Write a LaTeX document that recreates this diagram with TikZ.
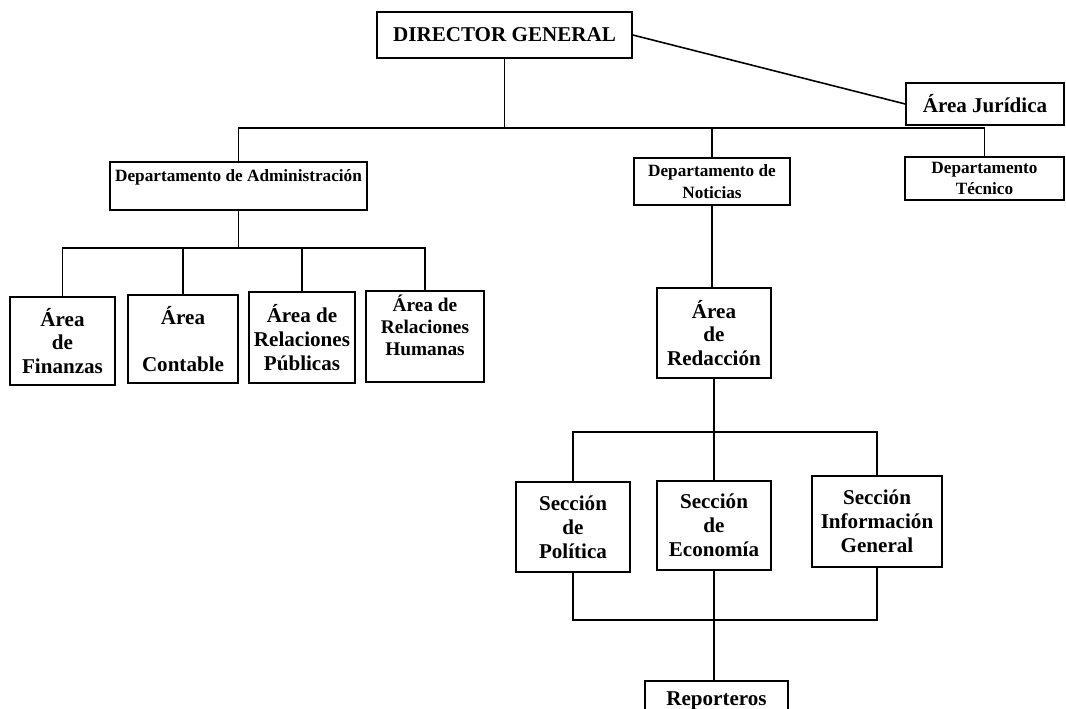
\documentclass[tikz,border=0pt]{standalone}
\usepackage{fontspec}
\setmainfont{Liberation Serif}
\usetikzlibrary{calc}

\tikzset{
	box/.style = {draw, line width = 0.9pt, align = center, inner sep = 2pt,
		font = \fontsize{12}{13.6}\selectfont\bfseries},
	smallbox/.style = {box, font = \fontsize{9.8}{12.4}\selectfont\bfseries},
	wire/.style = {line width = 0.9pt}
}

\begin{document}
\begin{tikzpicture}[x = 0.02cm, y = -0.02cm]
		%page of 1066 x 709
		\clip (0,0) rectangle (1066,709);
		
		%top level
		\node [box, minimum width = 5.10cm, minimum height = 0.92cm] (dg) at (504.5,35) {DIRECTOR GENERAL};
		\node [box, minimum width = 3.16cm, minimum height = 0.84cm] (jur) at (985,104) {Área Jurídica};
		
		%departments
		\node [smallbox, minimum width = 5.14cm, minimum height = 0.96cm] (adm) at (238.5,186) {Departamento de Administración\\ \mbox{}};
		\node [smallbox, minimum width = 3.12cm, minimum height = 0.94cm] (not) at (712,181.5) {Departamento de\\ Noticias};
		\node [smallbox, minimum width = 3.18cm, minimum height = 0.86cm] (tec) at (984.5,178.5) {Departamento\\ Técnico};
		
		%areas of administration
		\node [box, minimum width = 2.10cm, minimum height = 1.76cm] (fin) at (62.5,341) {Área\\ de\\ Finanzas};
		\node [box, minimum width = 2.20cm, minimum height = 1.76cm] (con) at (183,339) {Área\\ \mbox{}\\ Contable};
		\node [box, minimum width = 2.12cm, minimum height = 1.82cm] (rpu) at (302,337.5) {Área de\\ Relaciones\\ Públicas};
		\node [box, minimum width = 2.36cm, minimum height = 1.82cm, font = \fontsize{11}{12.6}\selectfont\bfseries] (rhu) at (425,336.5) {Área de\\ Relaciones\\ Humanas\\ \mbox{}};
		
		%news
		\node [box, minimum width = 2.28cm, minimum height = 1.80cm] (red) at (714,333) {Área\\ de\\ Redacción};
		\node [box, minimum width = 2.28cm, minimum height = 1.80cm] (pol) at (573,527) {Sección\\ de\\ Política};
		\node [box, minimum width = 2.28cm, minimum height = 1.78cm] (eco) at (714,525.5) {Sección\\ de\\ Economía};
		\node [box, minimum width = 2.60cm, minimum height = 1.82cm] (inf) at (877,521.5) {Sección\\ Información\\ General};
		\node [box, minimum width = 2.86cm, minimum height = 1.20cm, anchor = north] (rep) at (716.5,680) {Reporteros\\ \mbox{}};
		
		%bus lines
		\coordinate (b1) at (500,128);
		\coordinate (b2) at (245,248);
		\coordinate (b3) at (714,432);
		\coordinate (b4) at (714,620);
		
		%connectors
		\draw [wire] (dg.east) -- (jur.west);
		\draw [wire] (dg.south) -- (dg.south |- b1);
		\draw [wire] (adm.north) |- (tec.north |- b1) -- (tec.north);
		\draw [wire] (not.north) -- (not.north |- b1);
		
		\draw [wire] (adm.south) -- (adm.south |- b2);
		\draw [wire] (fin.north) |- (rhu.north |- b2) -- (rhu.north);
		\draw [wire] (con.north) -- (con.north |- b2);
		\draw [wire] (rpu.north) -- (rpu.north |- b2);
		
		\draw [wire] (not.south) -- (not.south |- red.north);
		\draw [wire] (red.south) -- (eco.north);
		\draw [wire] (pol.north) |- (inf.north |- b3) -- (inf.north);
		
		\draw [wire] (pol.south) |- (inf.south |- b4) -- (inf.south);
		\draw [wire, line width = 1.2pt] (eco.south) -- (eco.south |- rep.north);
	\end{tikzpicture}
\end{document}
